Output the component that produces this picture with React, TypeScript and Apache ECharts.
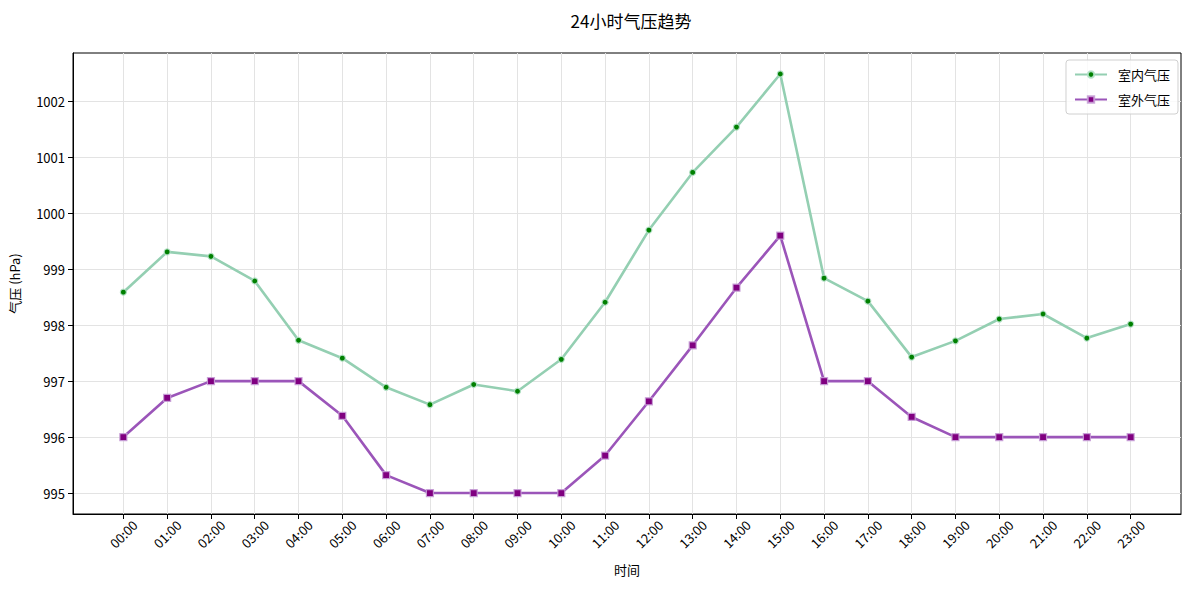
import React, { useEffect, useRef } from "react";
import * as echarts from "echarts";

const hours = ["00:00","01:00","02:00","03:00","04:00","05:00","06:00","07:00","08:00","09:00","10:00","11:00","12:00","13:00","14:00","15:00","16:00","17:00","18:00","19:00","20:00","21:00","22:00","23:00"];
const indoor = [998.59, 999.31, 999.23, 998.79, 997.73, 997.41, 996.89, 996.58, 996.94, 996.82, 997.39, 998.41, 999.70, 1000.73, 1001.54, 1002.49, 998.84, 998.43, 997.43, 997.72, 998.11, 998.20, 997.77, 998.02];
const outdoor = [996.0, 996.70, 997.0, 997.0, 997.0, 996.38, 995.32, 995.0, 995.0, 995.0, 995.0, 995.67, 996.64, 997.64, 998.67, 999.60, 997.0, 997.0, 996.36, 996.0, 996.0, 996.0, 996.0, 996.0];
const yTicks = [995, 996, 997, 998, 999, 1000, 1001, 1002];
const seriesNames = ["室内气压", "室外气压"];
const title = "24小时气压趋势";
const xName = "时间";
const yName = "气压 (hPa)";

const FONT = "'Noto Sans CJK SC', 'Noto Sans', sans-serif";

export default function App() {
  const ref = useRef<HTMLDivElement>(null);
  useEffect(() => {
    document.body.style.margin = "0";
    if (!ref.current) return;
    const chart = echarts.init(ref.current, null, { renderer: "svg" });
    const xIdx = hours.map((_, i) => i);
    const allVals = indoor.concat(outdoor);
    const dMin = Math.min(...allVals);
    const dMax = Math.max(...allVals);
    const yPad = (dMax - dMin) * 0.05;
    const xPad = (hours.length - 1) * 0.05;
    chart.setOption({
      animation: false,
      textStyle: { fontFamily: FONT },
      title: {
        text: title,
        left: 626,
        textAlign: "center",
        top: 7,
        textStyle: { fontFamily: FONT, fontSize: 17, fontWeight: "normal", color: "#000" },
      },
      legend: {
        right: 11,
        top: 60,
        orient: "vertical",
        itemWidth: 32,
        itemHeight: 8,
        itemGap: 12,
        padding: [8, 8, 8, 8],
        borderColor: "#d0d0d0",
        borderWidth: 1,
        borderRadius: 3,
        backgroundColor: "rgba(255,255,255,0.8)",
        textStyle: { fontFamily: FONT, fontSize: 13, color: "#000", padding: [0, 0, 0, 6] },
        data: seriesNames,
      },
      grid: {
        left: 71,
        right: 8,
        top: 53,
        bottom: 76,
        show: true,
        borderColor: "#000",
        borderWidth: 1,
        backgroundColor: "transparent",
      },
      xAxis: {
        type: "value",
        min: -xPad,
        max: hours.length - 1 + xPad,
        name: xName,
        nameLocation: "middle",
        nameGap: 49,
        nameTextStyle: { fontFamily: FONT, fontSize: 13, color: "#000" },
        axisLine: { show: true, onZero: false, lineStyle: { color: "#000", width: 1 } },
        axisTick: { show: true, customValues: xIdx, length: 5, lineStyle: { color: "#000" } },
        axisLabel: {
          customValues: xIdx,
          formatter: (v: number) => hours[Math.round(v)] ?? "",
          rotate: 45,
          align: "center",
          verticalAlign: "middle",
          margin: 20,
          fontFamily: FONT,
          fontSize: 13,
          color: "#000",
        },
        splitLine: { show: true, lineStyle: { color: "#e3e3e3", width: 1 } },
      },
      yAxis: {
        type: "value",
        min: dMin - yPad,
        max: dMax + yPad,
        name: yName,
        nameLocation: "middle",
        nameGap: 52,
        nameRotate: 90,
        nameTextStyle: { fontFamily: FONT, fontSize: 13, color: "#000" },
        axisLine: { show: true, onZero: false, lineStyle: { color: "#000", width: 1 } },
        axisTick: { show: true, customValues: yTicks, length: 5, lineStyle: { color: "#000" } },
        axisLabel: {
          customValues: yTicks,
          formatter: (v: number) => String(Math.round(v)),
          margin: 8,
          fontFamily: FONT,
          fontSize: 13,
          color: "#000",
        },
        splitLine: { show: true, lineStyle: { color: "#e3e3e3", width: 1 } },
      },
      series: [
        {
          name: seriesNames[0],
          type: "line",
          data: indoor.map((v, i) => [i, v]),
          symbol: "circle",
          symbolSize: 6,
          lineStyle: { color: "#94cfb2", width: 2.6 },
          itemStyle: { color: "#008000", borderColor: "rgba(180,225,200,0.9)", borderWidth: 1.2 },
          color: "#94cfb2",
          z: 3,
        },
        {
          name: seriesNames[1],
          type: "line",
          data: outdoor.map((v, i) => [i, v]),
          symbol: "rect",
          symbolSize: 7,
          lineStyle: { color: "#9b55b9", width: 2.6 },
          itemStyle: { color: "#800080", borderColor: "rgba(200,160,215,0.9)", borderWidth: 1.2 },
          color: "#9b55b9",
          z: 3,
        },
      ],
    });
    return () => chart.dispose();
  }, []);
  return <div ref={ref} style={{ width: 1189, height: 590 }} />;
}
